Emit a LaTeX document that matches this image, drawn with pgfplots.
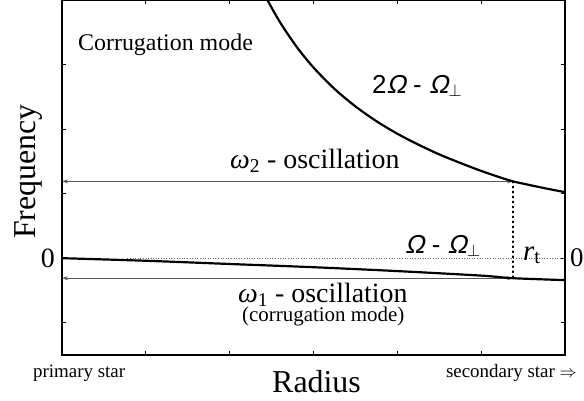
\documentclass[border=0pt]{standalone}
\usepackage{pgfplots}
\pgfplotsset{compat=1.18}
\usepackage{fontspec}
\setmainfont{Liberation Serif}
\newfontfamily\arial{Liberation Sans}
\newfontfamily\arialsl[FakeSlant=0.22]{Liberation Sans}
\usetikzlibrary{arrows.meta}
\begin{document}
\begin{tikzpicture}
\useasboundingbox (-62bp,-46bp) rectangle (522bp,355bp);
\begin{axis}[at={(0,0)}, anchor=south west, scale only axis,
  width=503bp, height=355bp,
  xmin=0, xmax=6, ymin=-1.5, ymax=4,
  xtick={1,2,3,4,5}, ytick={-1,0,1,2,3},
  xticklabels={}, yticklabels={},
  tick align=inside, tick pos=both, major tick length=4bp,
  axis line style={line width=1.2pt},
  every tick/.style={black, line width=1pt},
  clip=false]
% dotted zero line
\addplot[draw=black!60, dotted, line width=0.6pt] coordinates {(0.78,0) (6,0)};
% vertical dotted r_t
\addplot[black, line width=1.4pt, dash pattern=on 1.4pt off 3.6pt, line cap=round] coordinates {(5.38,1.19) (5.38,-0.31)};
% omega arrows
\addplot[draw=black!65, line width=0.8pt, {Stealth[length=6pt,width=4pt]}-{Stealth[length=6pt,width=4pt]}] coordinates {(0,1.19) (5.38,1.19)};
\addplot[draw=black!65, line width=0.8pt, {Stealth[length=6pt,width=4pt]}-{Stealth[length=6pt,width=4pt]}] coordinates {(0,-0.31) (5.38,-0.31)};
% curves
\addplot[black, line width=2.2pt, smooth] coordinates {
(2.40,4.127) (2.45,4.000) (2.60,3.657) (2.80,3.273) (3.00,2.954) (3.25,2.624) (3.50,2.352) (3.75,2.123) (4.00,1.928) (4.25,1.760) (4.50,1.608) (4.75,1.476) (5.00,1.352) (5.25,1.241) (5.38,1.190) (5.50,1.155) (5.75,1.086) (6.00,1.023)};
\addplot[black, line width=2.2pt, smooth] coordinates {
(0,0) (1,-0.04) (2,-0.09) (3,-0.14) (4,-0.20) (5,-0.27) (5.38,-0.31) (6,-0.34)};
% labels
\node[rotate=90, anchor=base, inner sep=0, font=\fontsize{32}{36}\selectfont] at (axis cs:-0.322,1.34) {Frequency};
\node[anchor=base, inner sep=0, font=\fontsize{32}{36}\selectfont] at (axis cs:3.036,-2.076) {Radius};
\node[anchor=base west, inner sep=0, font=\fontsize{19}{22}\selectfont] at (axis cs:-0.346,-1.844) {primary star};
\node[anchor=base east, inner sep=0, font=\fontsize{19}{22}\selectfont] at (axis cs:6.143,-1.844) {secondary star $\Rightarrow$};
\node[anchor=east, inner sep=0, font=\fontsize{28}{32}\selectfont] at (axis cs:-0.084,0) {0};
\node[anchor=west, inner sep=0, font=\fontsize{27}{32}\selectfont] at (axis cs:6.06,0) {0};
\node[anchor=base west, inner sep=0, font=\fontsize{24}{28}\selectfont] at (axis cs:0.191,3.222) {Corrugation mode};
\node[anchor=base west, inner sep=0, font=\arial\fontsize{26}{30}\selectfont] at (axis cs:3.698,2.556) {2{\arialsl Ω} - {\arialsl Ω}\textsubscript{$\perp$}};
\node[anchor=base west, inner sep=0, font=\arial\fontsize{26}{30}\selectfont] at (axis cs:4.092,0.077) {{\arialsl Ω} - {\arialsl Ω}\textsubscript{$\perp$}};
\node[anchor=base west, inner sep=0, font=\fontsize{28}{32}\selectfont] at (axis cs:2.004,1.394) {{\itshape ω}\textsubscript{2} - oscillation};
\node[anchor=base west, inner sep=0, font=\fontsize{28}{32}\selectfont] at (axis cs:2.099,-0.682) {{\itshape ω}\textsubscript{1} - oscillation};
\node[anchor=base west, inner sep=0, font=\fontsize{21}{24}\selectfont] at (axis cs:2.147,-0.985) {(corrugation mode)};
\node[anchor=base west, inner sep=0, font=\fontsize{29}{32}\selectfont] at (axis cs:5.499,-0.031) {{\itshape r}\textsubscript{t}};
\end{axis}
\end{tikzpicture}
\end{document}
